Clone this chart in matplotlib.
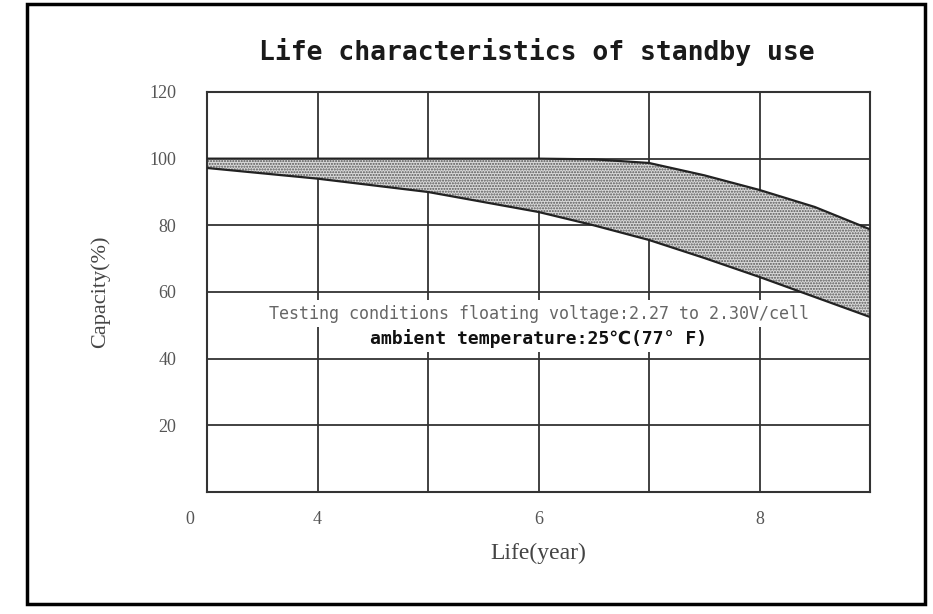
import matplotlib.pyplot as plt
from matplotlib.patches import Rectangle

## Data
years_upper = [3, 4, 5, 6, 6.5, 7, 7.5, 8, 8.5, 9]
cap_upper = [100, 100, 100, 100, 99.8, 98.7, 95.0, 90.6, 85.5, 78.8]
years_lower = [3, 4, 5, 6, 6.5, 7, 7.5, 8, 8.5, 9]
cap_lower = [97.2, 94.0, 90.0, 84.0, 80.0, 75.6, 70.2, 64.5, 58.5, 52.5]

x_grid = [3, 4, 5, 6, 7, 8, 9]
x_labels = ['', '4', '', '6', '', '8', '']
y_grid = [0, 20, 40, 60, 80, 100, 120]
y_labels = ['', '20', '40', '60', '80', '100', '120']

fig = plt.figure(figsize=(9.33, 6.14), dpi=100)
ax = fig.add_axes([0.2219, 0.1987, 0.7106, 0.6515])

# stippled band between the two curves
ax.fill_between(years_upper, cap_lower, cap_upper, facecolor='#dadada',
                edgecolor='#555555', hatch='......', linewidth=0, zorder=2)
ax.plot(years_upper, cap_upper, color='#222222', lw=1.6, zorder=3)
ax.plot(years_lower, cap_lower, color='#222222', lw=1.6, zorder=3)

ax.set_xlim(3, 9)
ax.set_ylim(0, 120)
ax.set_xticks(x_grid)
ax.set_xticklabels(x_labels)
ax.set_yticks(y_grid)
ax.set_yticklabels(y_labels)
ax.grid(True, color='#333333', lw=1.3, zorder=1)
ax.set_axisbelow(True)
for s in ax.spines.values():
    s.set_color('#333333')
    s.set_linewidth(1.5)
ax.tick_params(length=0, labelsize=13, labelcolor='#555555')
for lab in ax.get_xticklabels() + ax.get_yticklabels():
    lab.set_fontfamily('Liberation Serif')
ax.tick_params(axis='x', pad=14)
ax.tick_params(axis='y', pad=22)

# origin label sits left of the axis corner
ax.annotate('0', xy=(3, 0), xytext=(-17, -28), textcoords='offset pixels',
            ha='center', va='center', fontsize=13, color='#555555',
            family='Liberation Serif')

ax.set_xlabel('Life(year)', fontsize=17, family='Liberation Serif', color='#444444', labelpad=10)
ax.set_ylabel('Capacity(%)', fontsize=16, family='Liberation Serif', color='#444444', labelpad=28)

fig.text(0.5755, 0.915, 'Life characteristics of standby use', ha='center', va='center',
         fontsize=19, fontweight='bold', family='DejaVu Sans Mono', color='#1a1a1a')

ax.text(6.0, 53.5, 'Testing conditions floating voltage:2.27 to 2.30V/cell',
        ha='center', va='center', fontsize=12, color='#666666',
        family=['DejaVu Sans Mono', 'DejaVu Sans'],
        bbox=dict(facecolor='white', edgecolor='none', pad=3), zorder=4)
ax.text(6.0, 46.0, 'ambient temperature:25\u2103(77\u00b0 F)',
        ha='center', va='center', fontsize=13, fontweight='bold', color='#111111',
        family=['DejaVu Sans Mono', 'DejaVu Sans'],
        bbox=dict(facecolor='white', edgecolor='none', pad=3), zorder=4)

# outer frame
fig.patches.append(Rectangle((27 / 933, 10 / 614), 898 / 933, 600 / 614,
                             transform=fig.transFigure, fill=False,
                             edgecolor='black', linewidth=2.5))

fig.savefig('out.png', dpi=100)
